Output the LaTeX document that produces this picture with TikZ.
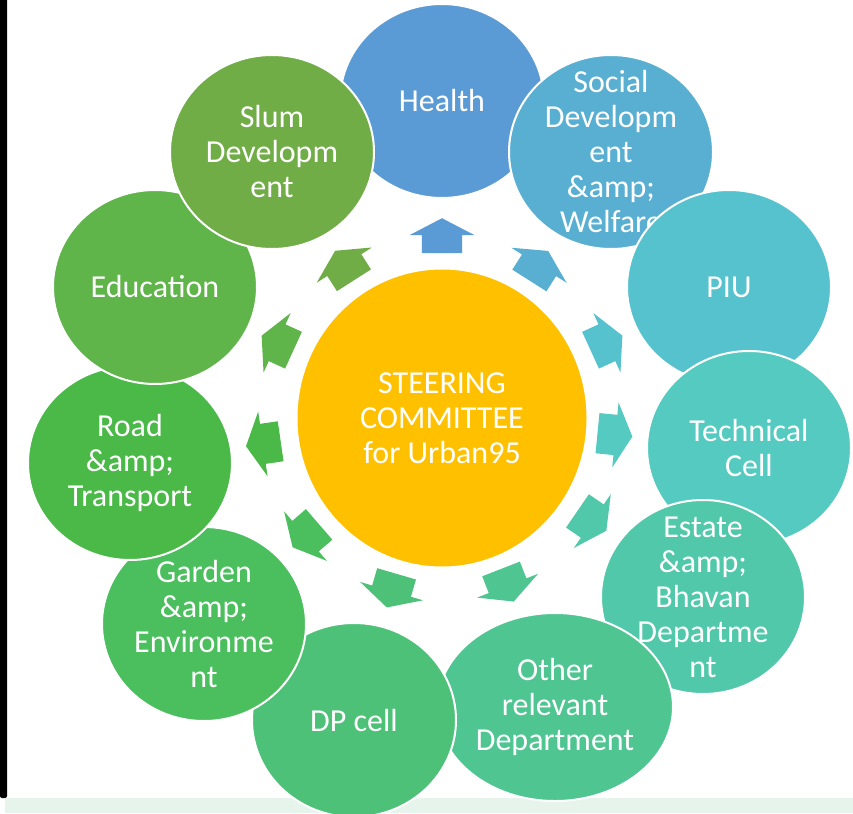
\documentclass[tikz,border=0pt]{standalone}
\usepackage{fontspec}
\setmainfont{Carlito}
\usetikzlibrary{calc, shapes.geometric, shapes.arrows}

\definecolor{cSteer}{HTML}{FFC000}
\definecolor{cHealth}{HTML}{5B9BD5}
\definecolor{cSocial}{HTML}{59AFD1}
\definecolor{cPiu}{HTML}{55C2CE}
\definecolor{cTech}{HTML}{54CAC0}
\definecolor{cEstate}{HTML}{51C8AA}
\definecolor{cOther}{HTML}{4FC591}
\definecolor{cDp}{HTML}{4DC177}
\definecolor{cGarden}{HTML}{4BBE5E}
\definecolor{cRoad}{HTML}{4AB948}
\definecolor{cEdu}{HTML}{5FB44A}
\definecolor{cSlum}{HTML}{71AD47}
\definecolor{cStrip}{HTML}{E6F4EC}

\begin{document}
\begin{tikzpicture}[
x=1pt, y=-1pt,
tag/.style={text=white, align=center, font=\fontsize{32}{35}\selectfont},
unit/.style={ellipse, draw=white, line width=2pt, fill=#1, inner sep=0pt,
  minimum width=204pt, minimum height=194pt},
spoke/.style={single arrow, fill=#1, draw=none, anchor=tip,
  inner xsep=0pt, inner ysep=20pt, minimum height=35pt,
  single arrow head extend=12.5pt, single arrow tip angle=125},
]
\useasboundingbox (0,0) rectangle (853,813);
% page
\fill[white] (0,0) rectangle (853,813);
\fill[cStrip] (5,798) rectangle (853,813);
\fill[black, rounded corners=2pt] (0,-4) rectangle (7,798);

% nodes
\node[ellipse, draw=white, line width=2pt, fill=cSteer, inner sep=0pt,
  minimum width=291pt, minimum height=299pt, tag] (steer) at (442,418)
  {STEERING\\COMMITTEE\\for Urban95};
\node[unit=cHealth, label={[tag]center:Health}] (health) at (442,101) {};
\node[unit=cSocial, label={[tag]center:{Social\\Developm\\ent\\\&amp;\\Welfare}}] (social) at (611,152) {};
\node[unit=cPiu, label={[tag]center:PIU}] (piu) at (729,287) {};
\node[unit=cTech, label={[tag]center:{Technical\\Cell}}] (tech) at (749,448) {};
\node[unit=cEstate, label={[tag]center:{Estate\\\&amp;\\Bhavan\\Departme\\nt}}] (estate) at (703,597) {};
\node[unit=cOther, minimum width=236pt, minimum height=188pt,
  label={[tag]center:{Other\\relevant\\Department}}] (other) at (555,707) {};
\node[unit=cDp, label={[tag]center:DP cell}] (dp) at (354,720) {};
\node[unit=cGarden, label={[tag]center:{Garden\\\&amp;\\Environme\\nt}}] (garden) at (204,624) {};
\node[unit=cRoad, label={[tag]center:{Road\\\&amp;\\Transport}}] (road) at (130,463) {};
\node[unit=cEdu, label={[tag]center:Education}] (edu) at (155,287) {};
\node[unit=cSlum, label={[tag]center:{Slum\\Developm\\ent}}] (slum) at (272,152) {};

% arrows
\path let \p1 = ($(health)-(steer)$) in ($(health)!117pt!(steer)$) node[spoke=cHealth, rotate={atan2(\y1,\x1)}] (toHealth) {};
\path let \p1 = ($(social)-(steer)$) in ($(social)!117pt!(steer)$) node[spoke=cSocial, rotate={atan2(\y1,\x1)}] (toSocial) {};
\path let \p1 = ($(piu)-(steer)$) in ($(piu)!117pt!(steer)$) node[spoke=cPiu, rotate={atan2(\y1,\x1)}] (toPiu) {};
\path let \p1 = ($(tech)-(steer)$) in ($(tech)!117pt!(steer)$) node[spoke=cTech, rotate={atan2(\y1,\x1)}] (toTech) {};
\path let \p1 = ($(estate)-(steer)$) in ($(estate)!117pt!(steer)$) node[spoke=cEstate, rotate={atan2(\y1,\x1)}] (toEstate) {};
\path let \p1 = ($(other)-(steer)$) in ($(other)!113pt!(steer)$) node[spoke=cOther, rotate={atan2(\y1,\x1)}] (toOther) {};
\path let \p1 = ($(dp)-(steer)$) in ($(dp)!117pt!(steer)$) node[spoke=cDp, rotate={atan2(\y1,\x1)}] (toDp) {};
\path let \p1 = ($(garden)-(steer)$) in ($(garden)!117pt!(steer)$) node[spoke=cGarden, rotate={atan2(\y1,\x1)}] (toGarden) {};
\path let \p1 = ($(road)-(steer)$) in ($(road)!117pt!(steer)$) node[spoke=cRoad, rotate={atan2(\y1,\x1)}] (toRoad) {};
\path let \p1 = ($(edu)-(steer)$) in ($(edu)!117pt!(steer)$) node[spoke=cEdu, rotate={atan2(\y1,\x1)}] (toEdu) {};
\path let \p1 = ($(slum)-(steer)$) in ($(slum)!117pt!(steer)$) node[spoke=cSlum, rotate={atan2(\y1,\x1)}] (toSlum) {};
\end{tikzpicture}
\end{document}
